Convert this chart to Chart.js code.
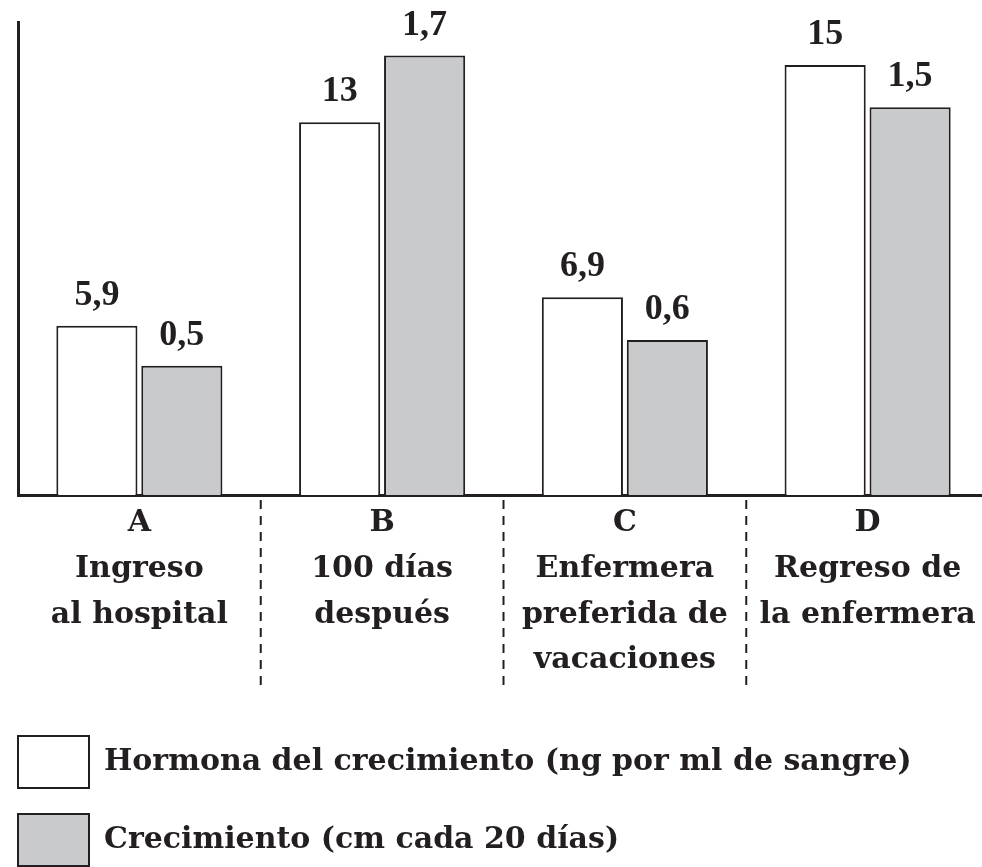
<!DOCTYPE html>
<html>
<head>
<meta charset="utf-8">
<script src="https://cdn.jsdelivr.net/npm/chart.js"></script>
<style>
  html, body { margin: 0; padding: 0; background: #fff; }
  #wrap { position: relative; width: 982px; height: 867px; overflow: hidden; }
  #chart { position: absolute; left: -8px; top: 0; }
</style>
</head>
<body>
<div id="wrap"><canvas id="chart" width="997" height="876"></canvas></div>
<script>
const categorias = [
  ['A', 'Ingreso', 'al hospital'],
  ['B', '100 días', 'después'],
  ['C', 'Enfermera', 'preferida de', 'vacaciones'],
  ['D', 'Regreso de', 'la enfermera']
];
const hormona = [5.9, 13, 6.9, 15];
const crecimiento = [0.5, 1.7, 0.6, 1.5];
const nombres = ['Hormona del crecimiento (ng por ml de sangre)', 'Crecimiento (cm cada 20 días)'];

const tinta = '#231f20';
const serif = "'DejaVu Serif', serif";
const cifras = "'Liberation Serif', 'Times New Roman', serif";

// líneas discontinuas entre grupos, bajo el eje
const separadores = {
  id: 'separadores',
  afterDraw(chart) {
    const x = chart.scales.x;
    const ctx = chart.ctx;
    ctx.save();
    ctx.strokeStyle = tinta;
    ctx.lineWidth = 2;
    ctx.setLineDash([9, 7]);
    for (let i = 1; i < categorias.length; i++) {
      const px = (x.getPixelForValue(i - 1) + x.getPixelForValue(i)) / 2;
      ctx.beginPath();
      ctx.moveTo(px, x.top + 5);
      ctx.lineTo(px, x.top + 195);
      ctx.stroke();
    }
    ctx.restore();
  }
};

// valor encima de cada barra
const valores = {
  id: 'valores',
  afterDatasetsDraw(chart) {
    const ctx = chart.ctx;
    ctx.save();
    ctx.font = 'bold 36px ' + cifras;
    ctx.fillStyle = tinta;
    ctx.textAlign = 'center';
    ctx.textBaseline = 'alphabetic';
    chart.data.datasets.forEach((ds, i) => {
      chart.getDatasetMeta(i).data.forEach((bar, j) => {
        ctx.fillText(String(ds.data[j]).replace('.', ','), bar.x, bar.y - 21);
      });
    });
    ctx.restore();
  }
};

new Chart(document.getElementById('chart'), {
  type: 'bar',
  data: {
    labels: categorias,
    datasets: [
      { label: nombres[0], data: hormona, yAxisID: 'y', backgroundColor: '#ffffff', borderColor: tinta, borderWidth: 2 },
      { label: nombres[1], data: crecimiento, yAxisID: 'y1', backgroundColor: '#c9cacc', borderColor: tinta, borderWidth: 2 }
    ]
  },
  options: {
    responsive: false,
    animation: false,
    layout: { padding: { top: 22 } },
    datasets: { bar: { categoryPercentage: 0.70, barPercentage: 0.955 } },
    plugins: {
      tooltip: { enabled: false },
      legend: {
        position: 'bottom',
        align: 'start',
        labels: { boxWidth: 71, boxHeight: 52, padding: 26, color: tinta, font: { family: serif, size: 30, weight: 'bold' } }
      }
    },
    scales: {
      x: {
        offset: true,
        grid: { display: false, drawTicks: false },
        border: { display: true, width: 3, color: tinta },
        ticks: { color: tinta, padding: 5, maxRotation: 0, autoSkip: false, font: { family: serif, size: 30, weight: 'bold', lineHeight: 1.53 } },
        afterFit(s) { s.height = 215; }
      },
      y: {
        min: 0, max: 16.5,
        ticks: { display: false },
        grid: { display: false, drawTicks: false },
        border: { display: true, width: 3, color: tinta },
        afterFit(s) { s.width = 26; }
      },
      y1: { display: false, min: 0, max: 1.83 }
    }
  },
  plugins: [separadores, valores]
});
</script>
</body>
</html>
